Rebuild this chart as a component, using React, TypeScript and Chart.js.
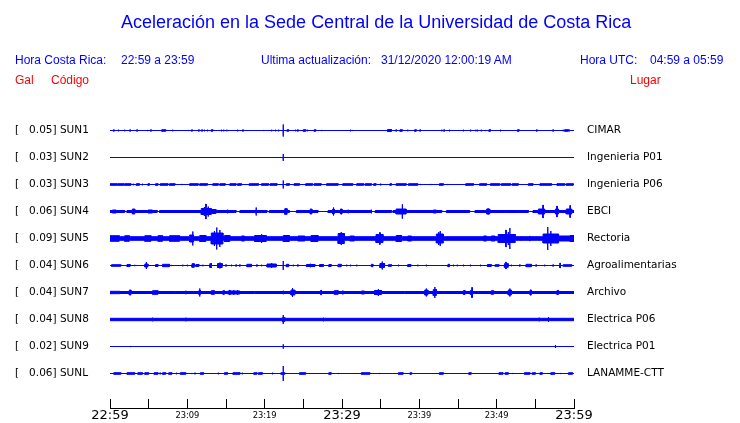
import React, { useEffect, useRef } from 'react';
import { Chart, registerables } from 'chart.js';

Chart.register(...registerables);

// ---------- data ----------
const CODES = ['SUN1', 'SUN2', 'SUN3', 'SUN4', 'SUN5', 'SUN6', 'SUN7', 'SUN8', 'SUN9', 'SUNL'];
const GAL = ['0.05', '0.03', '0.03', '0.06', '0.09', '0.04', '0.04', '0.04', '0.02', '0.06'];
const PLACES = ['CIMAR', 'Ingenieria P01', 'Ingenieria P06', 'EBCI', 'Rectoria', 'Agroalimentarias', 'Archivo', 'Electrica P06', 'Electrica P01', 'LANAMME-CTT'];
const TICK_LABELS = ['22:59', '', '23:09', '', '23:19', '', '23:29', '', '23:39', '', '23:49', '', '23:59'];
const MAJOR_TICKS = ['22:59', '23:29', '23:59'];

// continuous noise level of each trace (half-extent)
const BASE = [0, 0, 0, 0, 2.3, 0, 1.5, 1.7, 0, 0];

// bursts: [minute, halfExtent] (spike) or [startMinute, endMinute, halfExtent]
const SUN1_B = [
  [0.5, 1.3], [1.1, 1.3], [1.9, 1.3], [2.6, 1.3], [3.5, 1.3], [4.3, 1], [4.9, 1], [5.3, 1.3], [6.7, 7.2, 1.3], [8.1, 1.3],
  [10.1, 1], [10.6, 1.3], [11.5, 1.3], [11.9, 1.3], [12.2, 1.3], [12.6, 1.3], [13.1, 13.3, 1.3], [14.4, 1.3], [14.7, 1.3],
  [15.1, 1.3], [16.5, 1.3], [17.2, 1.3], [18.3, 0.8], [19.9, 0.8], [20.9, 1.3], [21.4, 1.3], [21.8, 1.3], [22.4, 6.5],
  [22.9, 23.1, 1.3], [24.0, 1.3], [24.3, 1.3], [25.0, 25.3, 1.3], [25.5, 1.3], [26.4, 26.6, 1.3], [27.4, 1], [31.1, 1.3],
  [31.3, 1], [33.9, 1], [35.9, 36.4, 1.5], [37.0, 1.3], [37.5, 37.8, 1.3], [38.5, 1.3], [39.4, 39.6, 1.3], [40.1, 1.3],
  [41.8, 1], [42.2, 1], [42.9, 1.3], [43.2, 1.3], [43.9, 1.3], [44.2, 1], [45.7, 1.3], [46.0, 1], [46.6, 1.3], [46.8, 1],
  [47.3, 1.3], [47.5, 1.3], [48.0, 1.3], [48.5, 1], [49.0, 49.2, 1.3], [50.5, 1.3], [52.7, 52.9, 1.3], [55.2, 1.3],
  [55.7, 1], [57.3, 1.3], [58.6, 1.3], [58.8, 59.3, 1.3], [59.4, 1.3],
];
const SUN2_B = [[22.4, 4]];
const SUN3_B = [
  [0, 0.9, 1.3], [1.0, 1.8, 1.3], [1.9, 2.7, 1.3], [3.0, 1.3], [3.4, 3.8, 1.3], [4.2, 1.3], [4.7, 1], [4.9, 5.1, 1.3],
  [5.9, 6.2, 1.3], [6.5, 7.5, 1.3], [7.7, 8.4, 1.3], [8.7, 1], [9.3, 1], [9.6, 1], [10.3, 11.4, 1.3], [11.6, 12.6, 1.3],
  [13.3, 14.0, 1.3], [14.2, 14.9, 1.3], [15.5, 16.3, 1.3], [16.5, 17.0, 1.3], [17.3, 1], [18.0, 19.2, 1.3],
  [19.6, 20.5, 1.3], [20.7, 21.6, 1.3], [22.4, 4.5], [22.8, 23.2, 1.3], [23.8, 24.5, 1.3], [25.3, 26.2, 1.3],
  [26.4, 27.3, 1.3], [28.0, 29.5, 1.3], [30.1, 31.4, 1.3], [31.9, 32.8, 1.3], [33.0, 33.8, 1.3], [34.1, 34.4, 1.3],
  [34.9, 35.1, 1], [35.6, 1], [36.2, 36.4, 1.3], [37.0, 38.3, 1.3], [38.6, 39.8, 1.3], [40.2, 1], [41.5, 1], [41.8, 1],
  [42.6, 43.1, 1.3], [43.7, 1], [46.0, 47.0, 1.3], [47.8, 48.7, 1.3], [49.2, 50.4, 1.3], [50.6, 51.8, 1.3],
  [52.0, 52.8, 1.3], [53.3, 1], [54.1, 54.7, 1.3], [55.6, 57.1, 1.3], [57.8, 58.8, 1.3], [59.0, 59.9, 1.3],
];
const SUN4_B = [
  [0, 1.9, 1.5], [2.2, 6.1, 1.5], [6.4, 16.3, 1.5], [16.8, 20.3, 1.5], [20.6, 23.2, 1.5], [24.1, 26.9, 1.5],
  [28.2, 33.8, 1.5], [34.3, 36.4, 1.5], [36.6, 42.9, 1.5], [43.5, 46.5, 1.5], [47.2, 54.1, 1.5], [54.7, 60, 1.5],
  [0.3, 0.8, 2], [2.9, 3.2, 3], [4.9, 5.5, 2], [11.8, 13.1, 3.5], [12.2, 5], [12.4, 8], [12.7, 5.5], [13.1, 13.7, 2.5],
  [15.2, 2.3], [18.9, 4.5], [22.6, 22.9, 3.3], [24.7, 2], [25.9, 26.1, 3], [28.8, 29.0, 3], [28.9, 4.5],
  [29.8, 30.0, 3], [30.8, 2.3], [33.8, 2.3], [37.0, 38.3, 3], [37.8, 7.7], [41.8, 42.2, 2], [48.7, 49.1, 3],
  [48.9, 3.5], [51.1, 1.8], [52.8, 2], [55.4, 56.2, 3], [56.0, 7], [57.6, 58.0, 3], [57.8, 6], [59.0, 59.7, 3],
  [59.5, 6.5],
];
const SUN5_B = [
  [0, 1.2, 3.3], [1.9, 2.5, 3.3], [4.5, 5.3, 3.3], [6.2, 6.8, 3.3], [7.7, 9.0, 3.3], [10.3, 10.8, 4], [10.7, 7.5],
  [11.6, 12.4, 3.5], [13.1, 14.6, 6], [13.5, 8], [13.8, 11.5], [14.2, 9], [14.8, 15.5, 3.5], [17.0, 17.4, 3],
  [18.7, 20.2, 3.5], [19.6, 5], [22.4, 23.2, 3.5], [24.3, 25.2, 3], [26.0, 26.9, 3.5], [29.5, 30.3, 5.5], [29.9, 7],
  [31.0, 31.6, 3], [34.4, 35.3, 4.5], [34.9, 6.5], [37.0, 37.7, 3.5], [38.5, 39.0, 3], [42.2, 43.1, 5], [42.5, 7],
  [42.7, 8], [48.3, 48.7, 3], [49.3, 49.8, 3], [50.2, 52.4, 4.5], [51.2, 9], [51.5, 7], [51.7, 11], [53.2, 3],
  [54.3, 3], [56.0, 58.0, 5], [56.6, 12], [57.0, 8], [58.0, 59.5, 3], [59.5, 60, 3.5],
];
const SUN6_B = [
  [0.2, 1.4, 1.3], [2.2, 2.6, 1.5], [3.2, 1.2], [4.5, 4.9, 2], [4.7, 4], [5.9, 6.2, 1.5], [6.8, 7.7, 1.7], [8.0, 1],
  [9.4, 1.3], [10.0, 1.3], [10.6, 10.9, 2.3], [11.1, 11.5, 1.5], [12.0, 1.3], [12.9, 13.1, 2.3], [13.1, 3],
  [13.9, 14.5, 2.5], [14.2, 3.5], [15.0, 1.3], [15.7, 1.3], [16.3, 1.3], [16.8, 1.3], [17.7, 18.3, 1.7], [19.0, 1.3],
  [19.6, 1.3], [20.3, 21.5, 2], [20.9, 3], [22.4, 5], [22.8, 23.1, 1.7], [23.7, 1.3], [24.3, 1.3], [25.4, 26.5, 1.5],
  [25.9, 2.3], [27.1, 27.6, 1.5], [28.3, 28.6, 1.5], [29.5, 29.9, 1.7], [30.6, 1.3], [31.1, 1.3], [31.9, 1.3],
  [33.8, 34.0, 1.7], [34.9, 35.5, 2.5], [35.2, 4.5], [36.0, 36.4, 1.3], [37.3, 1.3], [38.5, 38.9, 1.5], [39.8, 1.3],
  [40.9, 1.3], [43.7, 43.9, 1.7], [44.4, 1.3], [44.9, 1.3], [45.7, 1.3], [46.6, 1.3], [47.9, 1.3], [48.8, 49.3, 1.5],
  [49.8, 50.3, 1.3], [51.0, 51.5, 2.3], [51.2, 4], [51.9, 1.3], [53.0, 1.3], [53.8, 54.5, 1.7], [55.1, 1.3],
  [56.2, 1.3], [57.3, 1.3], [58.2, 3], [58.6, 59.7, 1.3],
];
const SUN7_B = [
  [0, 1.3, 1.7], [2.5, 2.7, 3], [5.5, 6.2, 2.3], [8.3, 1.7], [9.8, 2.3], [11.5, 11.7, 2.5], [11.6, 4.5],
  [13.1, 13.5, 2.3], [14.6, 14.8, 2.3], [15.2, 16.8, 2], [15.5, 2.8], [16.0, 2.8], [16.5, 2.8], [18.7, 1.7],
  [22.4, 2.3], [23.4, 23.9, 3], [23.6, 5], [27.3, 3], [29.0, 29.5, 2.3], [30.1, 2.5], [32.5, 32.9, 2],
  [34.2, 35.1, 2.5], [34.7, 4], [38.1, 1.7], [40.7, 41.1, 3], [40.9, 4.5], [41.8, 42.2, 3.5], [42.0, 6], [43.1, 2],
  [45.7, 45.9, 2.5], [46.6, 46.9, 2.5], [46.8, 5.5], [49.3, 49.6, 2.3], [51.5, 51.9, 3], [51.7, 4.5],
  [54.3, 54.5, 2.5], [54.4, 3.5], [57.8, 58.0, 2.5],
];
const SUN8_B = [[5.5, 2.3], [9.8, 2.3], [22.3, 22.6, 2.5], [22.4, 5], [27.6, 2.3], [55.5, 2.3], [56.7, 3]];
const SUN9_B = [[2.7, 1], [22.4, 2.7], [24.9, 1], [33.0, 1], [57.6, 2]];
const SUNL_B = [
  [0.5, 1.4, 1.3], [2.2, 3.2, 1.3], [3.6, 4.2, 1.3], [4.5, 5.0, 1.3], [5.7, 6.2, 1.3], [6.4, 6.6, 1], [6.8, 7.2, 1.3],
  [7.6, 8.0, 1.3], [8.6, 1.3], [9.1, 9.8, 1.3], [10.6, 1], [10.9, 11.1, 1], [11.7, 12.1, 1.3], [12.6, 1], [13.1, 1],
  [14.0, 1.3], [14.3, 1], [14.8, 15.2, 1.3], [15.9, 16.8, 1.3], [17.1, 1.3], [18.6, 19.0, 1.3], [19.2, 19.7, 1.3],
  [20.2, 1], [20.4, 1], [21.0, 1.3], [22.1, 22.6, 1.3], [22.4, 8], [23.3, 1], [24.0, 1], [24.5, 25.3, 1.3], [25.9, 1],
  [27.5, 1], [28.3, 28.6, 1.3], [29.5, 1], [30.2, 1], [31.9, 1], [32.5, 33.6, 1.3], [34.9, 1], [35.6, 1],
  [37.3, 37.9, 1.3], [38.8, 39.0, 1.3], [41.7, 1], [42.6, 43.1, 1.3], [45.3, 1], [46.4, 46.7, 1.3], [47.9, 1],
  [50.3, 50.8, 1.3], [51.1, 51.5, 1.3], [52.1, 1], [53.6, 54.3, 1.3], [54.6, 55.0, 1.3], [55.6, 55.9, 1.3], [56.3, 1],
  [57.0, 57.5, 1.3], [58.3, 1], [58.9, 1], [59.3, 59.8, 1.3],
];
const TRACES = [SUN1_B, SUN2_B, SUN3_B, SUN4_B, SUN5_B, SUN6_B, SUN7_B, SUN8_B, SUN9_B, SUNL_B];

// ---------- layout constants ----------
const BLUE = '#0000ff';
const Y_MAX = 298;
const TOP_CENTER = 277.5;
const SPACING = 27;
const STROKE = 1;
const SPIKE_W = 0.02;

function envelope(bursts: number[][], base: number): number[][] {
  const segs = bursts.map((b) => (b.length === 2 ? [b[0] - SPIKE_W, b[0] + SPIKE_W, b[1]] : b));
  const set = new Set<number>([0, 60]);
  segs.forEach((s) => {
    set.add(Math.max(0, Math.min(60, s[0])));
    set.add(Math.max(0, Math.min(60, s[1])));
  });
  const xs = Array.from(set).sort((a, b) => a - b);
  const pts: number[][] = [];
  for (let i = 0; i < xs.length - 1; i++) {
    const x0 = xs[i];
    const x1 = xs[i + 1];
    const mid = (x0 + x1) / 2;
    let a = base;
    for (const s of segs) if (s[0] <= mid && mid <= s[1]) a = Math.max(a, s[2]);
    const drawn = Math.max(0, a - STROKE / 2);
    pts.push([x0, drawn], [x1, drawn]);
  }
  return pts;
}

export default function App() {
  const ref = useRef<HTMLCanvasElement | null>(null);

  useEffect(() => {
    if (!ref.current) return;
    const datasets: any[] = [];
    TRACES.forEach((bursts, i) => {
      const c = TOP_CENTER - i * SPACING;
      const env = envelope(bursts, BASE[i]);
      const common = {
        borderColor: BLUE,
        backgroundColor: BLUE,
        borderWidth: STROKE,
        pointRadius: 0,
        tension: 0,
        xAxisID: 'x',
        yAxisID: 'y',
      };
      datasets.push({ ...common, label: CODES[i] + '+', data: env.map((p) => ({ x: p[0], y: c + p[1] })), fill: false });
      datasets.push({ ...common, label: CODES[i] + '-', data: env.map((p) => ({ x: p[0], y: c - p[1] })), fill: '-1' });
    });

    const traceTicks = (s: any) => {
      s.ticks = CODES.map((_, i) => ({ value: TOP_CENTER - i * SPACING }));
    };
    const labelFont = { family: '"DejaVu Sans", sans-serif', size: 10.5 };

    const chart = new Chart(ref.current, {
      type: 'line',
      data: { datasets },
      options: {
        animation: false,
        responsive: false,
        events: [],
        layout: { padding: { left: 15, top: 110, right: 0, bottom: 0 } },
        plugins: { legend: { display: false }, tooltip: { enabled: false }, title: { display: false } },
        scales: {
          x: {
            type: 'linear',
            position: 'bottom',
            min: 0,
            max: 60,
            ticks: {
              stepSize: 5,
              autoSkip: false,
              maxRotation: 0,
              minRotation: 0,
              padding: 9,
              color: '#000',
              callback: (_v: any, i: number) => TICK_LABELS[i],
              font: (ctx: any) =>
                MAJOR_TICKS.includes(TICK_LABELS[ctx.index])
                  ? { family: '"DejaVu Sans", sans-serif', size: 13, lineHeight: '16px' }
                  : { family: '"DejaVu Sans", sans-serif', size: 8.3, lineHeight: '16px' },
            },
            grid: { display: true, drawOnChartArea: false, drawTicks: true, tickLength: -9, color: '#000', lineWidth: 1 },
            border: { display: true, color: '#000', width: 1 },
            afterFit: (s: any) => {
              s.height = 15;
            },
          },
          y: {
            type: 'linear',
            position: 'left',
            min: 0,
            max: Y_MAX,
            afterBuildTicks: traceTicks,
            ticks: {
              autoSkip: false,
              crossAlign: 'far',
              padding: 0,
              color: '#000',
              font: labelFont,
              callback: (_v: any, i: number) => `[   ${GAL[i]}] ${CODES[i]}`,
            },
            grid: { display: false, drawTicks: false },
            border: { display: false },
            afterFit: (s: any) => {
              s.width = 95;
            },
          },
          y2: {
            type: 'linear',
            position: 'right',
            min: 0,
            max: Y_MAX,
            afterBuildTicks: traceTicks,
            ticks: {
              autoSkip: false,
              padding: 0,
              color: '#000',
              font: labelFont,
              callback: (_v: any, i: number) => PLACES[i],
            },
            grid: { display: false, drawTicks: true, tickLength: 13 },
            border: { display: false },
            afterFit: (s: any) => {
              s.width = 166;
            },
          },
        },
      } as any,
    });
    return () => chart.destroy();
  }, []);

  const font = '"Liberation Sans", Arial, sans-serif';
  const row = (top: number, color: string) => ({
    position: 'absolute' as const,
    top,
    fontFamily: font,
    fontSize: 12,
    lineHeight: '14px',
    color,
    whiteSpace: 'pre' as const,
  });

  return (
    <div style={{ position: 'absolute', left: 0, top: 0, width: 740, height: 423, background: '#fff', overflow: 'hidden' }}>
      <canvas ref={ref} width={740} height={423} style={{ position: 'absolute', left: 0, top: 0 }} />
      <div style={{ position: 'absolute', left: 121, top: 12, fontFamily: font, fontSize: 18, lineHeight: '21px', color: BLUE, whiteSpace: 'pre' }}>
        Aceleración en la Sede Central de la Universidad de Costa Rica
      </div>
      <div style={{ ...row(53, BLUE), left: 15 }}>Hora Costa Rica:</div>
      <div style={{ ...row(53, BLUE), left: 121 }}>22:59 a 23:59</div>
      <div style={{ ...row(53, BLUE), left: 261 }}>Ultima actualización:</div>
      <div style={{ ...row(53, BLUE), left: 381 }}>31/12/2020 12:00:19 AM</div>
      <div style={{ ...row(53, BLUE), left: 580 }}>Hora UTC:</div>
      <div style={{ ...row(53, BLUE), left: 650 }}>04:59 a 05:59</div>
      <div style={{ ...row(73, 'red'), left: 15 }}>Gal</div>
      <div style={{ ...row(73, 'red'), left: 51 }}>Código</div>
      <div style={{ ...row(73, 'red'), left: 630 }}>Lugar</div>
    </div>
  );
}
